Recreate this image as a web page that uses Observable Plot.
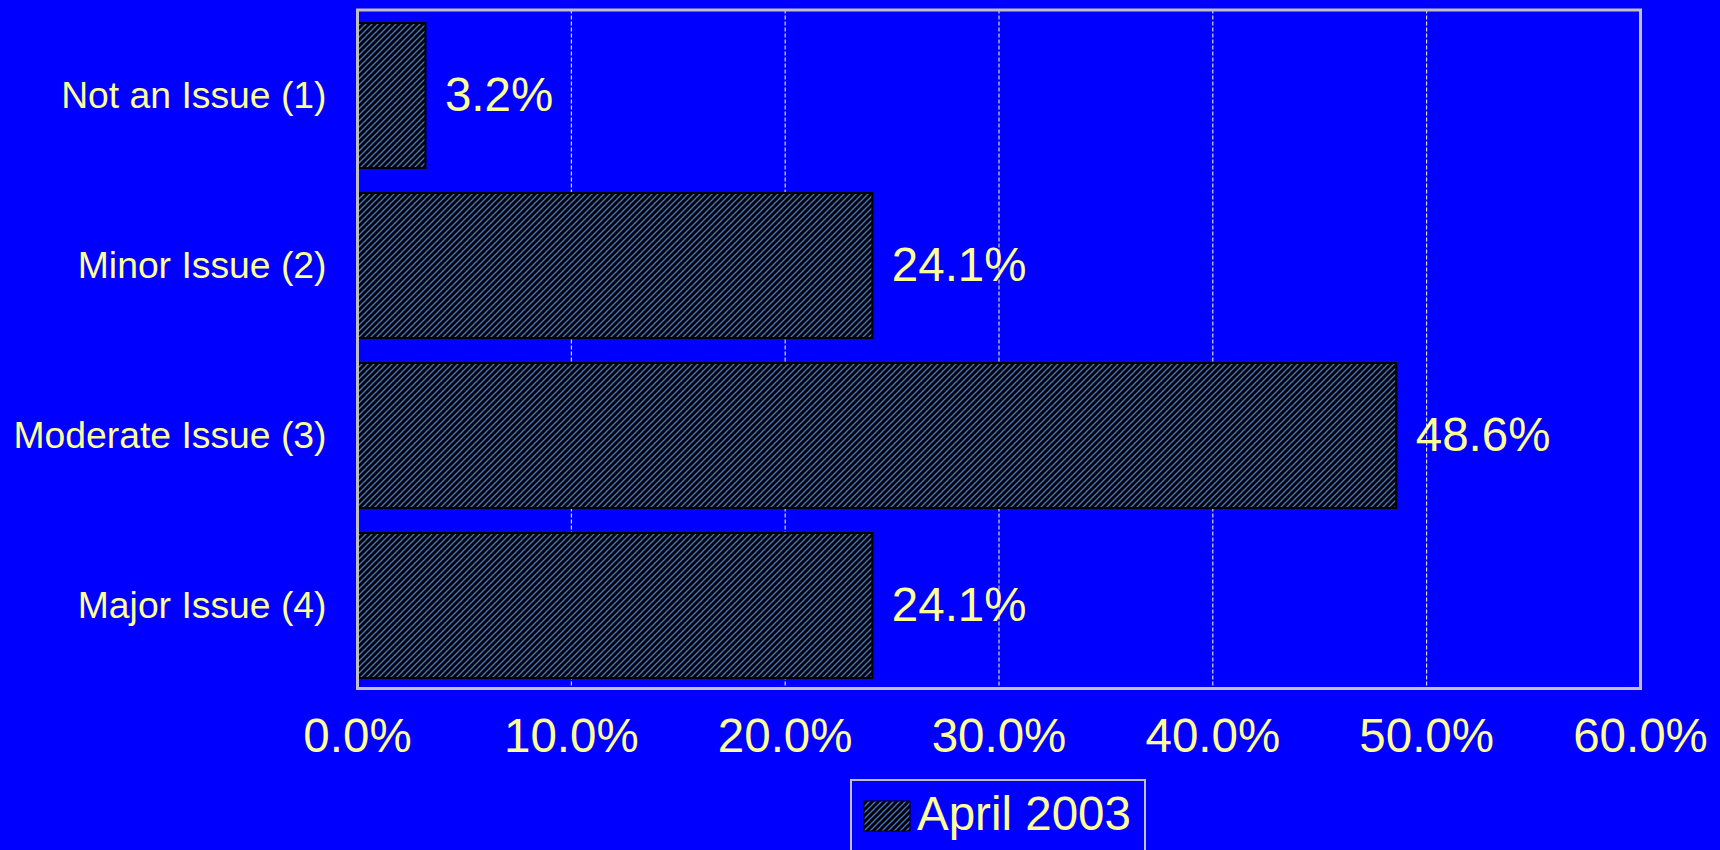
<!DOCTYPE html>
<html>
<head>
<meta charset="utf-8">
<script src="https://cdn.jsdelivr.net/npm/d3@7"></script>
<script src="https://cdn.jsdelivr.net/npm/@observablehq/plot@0.6"></script>
<style>
  html, body { margin: 0; padding: 0; background: #0000FF; overflow: hidden; }
  #legend { padding-left: 850px; margin-top: 4px; line-height: 0; }
</style>
</head>
<body>
<div id="chart"></div>
<div id="legend"></div>
<script>
const categories = ["Not an Issue (1)", "Minor Issue (2)", "Moderate Issue (3)", "Major Issue (4)"];
const values = [3.2, 24.1, 48.6, 24.1];
const xTicks = [0, 10, 20, 30, 40, 50, 60];
const seriesName = "April 2003";

const data = categories.map((c, i) => ({category: c, value: values[i]}));
const fontFamily = "'Liberation Sans', Arial, sans-serif";
const textColor = "#FFFF99";
const fmt = d => d.toFixed(1) + "%";

function addHatch(sel, id) {
  const p = sel.append("pattern")
    .attr("id", id)
    .attr("patternUnits", "userSpaceOnUse")
    .attr("width", 6).attr("height", 6);
  p.append("rect").attr("width", 6).attr("height", 6).attr("fill", "black");
  p.append("path")
    .attr("d", "M-1,1 L1,-1 M0,6 L6,0 M5,7 L7,5")
    .attr("stroke", "#4477CC")
    .attr("stroke-width", 1.3);
}

const defsMark = () => {
  const defs = d3.create("svg:defs");
  addHatch(defs, "hatch");
  return defs.node();
};

const chart = Plot.plot({
  width: 1720,
  height: 775,
  marginLeft: 357,
  marginRight: 80,
  marginTop: 9.5,
  marginBottom: 87,
  style: {background: "#0000FF", color: textColor, fontFamily, overflow: "visible"},
  x: {domain: [0, 60]},
  y: {domain: categories, paddingInner: 0.15, paddingOuter: 0.069, align: 0.565},
  marks: [
    defsMark,
    Plot.gridX(xTicks.slice(1, -1), {stroke: "white", strokeOpacity: 1, strokeWidth: 1, strokeDasharray: "4,2"}),
    Plot.barX(data, {x: "value", y: "category", fill: "url(#hatch)", stroke: "black", strokeWidth: 2}),
    Plot.text(data, {x: "value", y: "category", text: d => fmt(d.value), textAnchor: "start", dx: 19, fill: textColor, fontSize: 47.5}),
    Plot.frame({stroke: "#C0C0C0", strokeWidth: 3}),
    Plot.axisX({ticks: xTicks, tickFormat: fmt, tickSize: 0, tickPadding: 30, fontSize: 47.5, label: null, fill: textColor}),
    Plot.axisY({tickSize: 0, tickPadding: 31, fontSize: 37.3, label: null, fill: textColor})
  ]
});
document.getElementById("chart").appendChild(chart);

// Legend
const lg = d3.select("#legend").append("svg")
  .attr("width", 296).attr("height", 75)
  .style("overflow", "visible");
addHatch(lg.append("defs"), "hatchL");
lg.append("rect").attr("x", 1).attr("y", 1).attr("width", 294).attr("height", 90)
  .attr("fill", "none").attr("stroke", "#C0C0C0").attr("stroke-width", 2);
lg.append("rect").attr("x", 14).attr("y", 22).attr("width", 46).attr("height", 30)
  .attr("fill", "url(#hatchL)").attr("stroke", "black").attr("stroke-width", 1);
lg.append("text").attr("x", 67).attr("y", 51)
  .attr("fill", textColor).attr("font-size", 47.5).attr("font-family", fontFamily)
  .text(seriesName);
</script>
</body>
</html>
